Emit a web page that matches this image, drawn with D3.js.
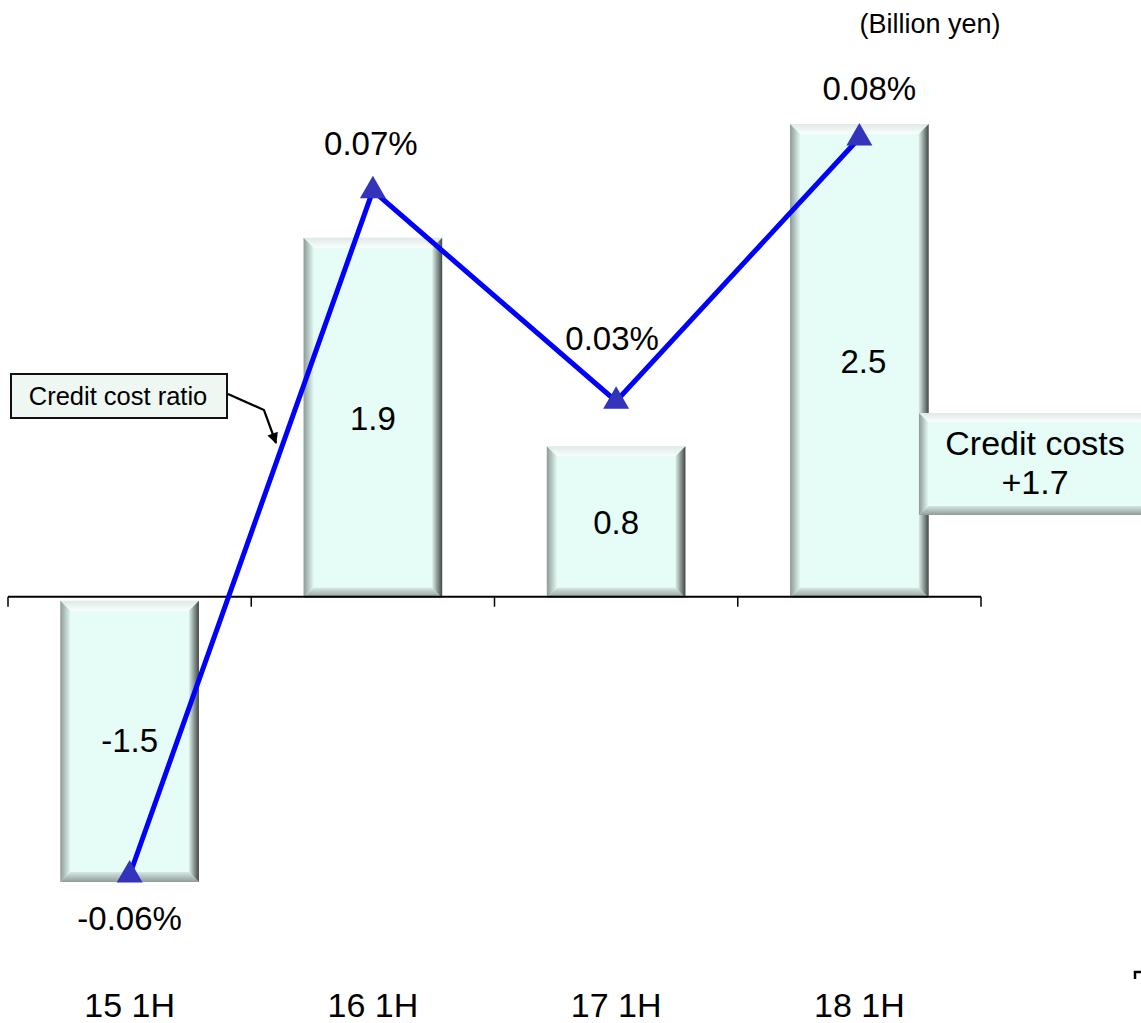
<!DOCTYPE html>
<html>
<head>
<meta charset="utf-8">
<script src="https://cdn.jsdelivr.net/npm/d3@7/dist/d3.min.js"></script>
<style>
  html, body { margin: 0; padding: 0; background: #ffffff; }
  svg { display: block; font-family: "Liberation Sans", Arial, sans-serif; }
</style>
</head>
<body>
<svg id="chart" width="1141" height="1023"></svg>
<script>
// ---- data ----
const categories = ["15 1H", "16 1H", "17 1H", "18 1H"];
const creditCosts = [-1.5, 1.9, 0.8, 2.5];            // billion yen (bars)
const creditCostRatio = [-0.06, 0.07, 0.03, 0.08];     // % (line)
const barLabels = ["-1.5", "1.9", "0.8", "2.5"];
const ratioLabels = ["-0.06%", "0.07%", "0.03%", "0.08%"];
const unitLabel = "(Billion yen)";
const legendLabel = "Credit cost ratio";
const calloutLines = ["Credit costs", "+1.7"];

// ---- layout / style ----
const ratioLabelOffsets = [[0, 55], [-2, -36], [-4, -51], [10, -38]];
const barLabelDx = [0, 0, 0, 4];
const svg = d3.select("#chart");
const defs = svg.append("defs");

const x = d3.scaleBand().domain(categories).range([8, 981])
  .paddingInner(0.43).paddingOuter(0.215);
const y = d3.scaleLinear().domain([-1.5, 2.5]).range([882, 124]);
const y2 = d3.scaleLinear().domain([-0.06, 0.08]).range([875, 138]);

// gradients for bevel
function grad(id, x1, y1, x2, y2_, c1, c2) {
  const g = defs.append("linearGradient").attr("id", id)
    .attr("x1", x1).attr("y1", y1).attr("x2", x2).attr("y2", y2_);
  g.append("stop").attr("offset", "0%").attr("stop-color", c1);
  g.append("stop").attr("offset", "100%").attr("stop-color", c2);
}
grad("gLeft", 0, 0, 1, 0, "#8c9a96", "#e2f7f1");
grad("gRight", 0, 0, 1, 0, "#dcefe9", "#3f4745");
grad("gTop", 0, 0, 0, 1, "#dfe9e6", "#f8fffd");
grad("gBottom", 0, 0, 0, 1, "#d6e8e3", "#8e9c98");

function bevelBox(g, x0, y0, w, h, b) {
  const x1 = x0 + w, y1 = y0 + h;
  g.append("rect").attr("x", x0).attr("y", y0).attr("width", w).attr("height", h)
    .attr("fill", "#e6fcf6");
  const poly = (pts, fill) => g.append("polygon")
    .attr("points", pts.map(p => p.join(",")).join(" ")).attr("fill", fill);
  poly([[x0, y0], [x1, y0], [x1 - b, y0 + b], [x0 + b, y0 + b]], "url(#gTop)");
  poly([[x0, y1], [x1, y1], [x1 - b, y1 - b], [x0 + b, y1 - b]], "url(#gBottom)");
  poly([[x0, y0], [x0 + b, y0 + b], [x0 + b, y1 - b], [x0, y1]], "url(#gLeft)");
  poly([[x1, y0], [x1, y1], [x1 - b, y1 - b], [x1 - b, y0 + b]], "url(#gRight)");
}

// ---- bars ----
const barsG = svg.append("g");
categories.forEach((c, i) => {
  const v = creditCosts[i];
  const top = v >= 0 ? y(v) : y(0) + 3;
  const bottom = v >= 0 ? y(0) : y(v);
  bevelBox(barsG, x(c), top, x.bandwidth(), bottom - top, 10);
});

// bar labels
svg.append("g").selectAll("text").data(categories).join("text")
  .attr("x", (c, i) => x(c) + x.bandwidth() / 2 + barLabelDx[i])
  .attr("y", (c, i) => (y(0) + y(creditCosts[i])) / 2)
  .attr("dy", "0.36em")
  .attr("text-anchor", "middle")
  .attr("font-size", 33)
  .text((c, i) => barLabels[i]);

// ---- axis line with ticks ----
const axisG = svg.append("g");
const y0 = y(0) - 1;
axisG.append("line").attr("x1", x.range()[0]).attr("x2", x.range()[1])
  .attr("y1", y0).attr("y2", y0).attr("stroke", "#000").attr("stroke-width", 2.2);
const tickXs = d3.range(categories.length + 1).map(i => x.range()[0] + i * x.step());
axisG.selectAll("line.tick").data(tickXs).join("line").attr("class", "tick")
  .attr("x1", d => d).attr("x2", d => d)
  .attr("y1", y0).attr("y2", y0 + 10)
  .attr("stroke", "#000").attr("stroke-width", 1.5);

// category labels
svg.append("g").selectAll("text").data(categories).join("text")
  .attr("x", c => x(c) + x.bandwidth() / 2)
  .attr("y", 1017)
  .attr("text-anchor", "middle")
  .attr("font-size", 34)
  .text(c => c);

// ---- ratio line ----
const pts = categories.map((c, i) => [x(c) + x.bandwidth() / 2, y2(creditCostRatio[i])]);
svg.append("path")
  .attr("d", d3.line()(pts))
  .attr("fill", "none").attr("stroke", "#0000ff").attr("stroke-width", 5)
  .attr("stroke-linejoin", "miter");
svg.append("g").selectAll("path").data(pts).join("path")
  .attr("transform", d => `translate(${d[0]},${d[1]})`)
  .attr("d", d3.symbol(d3.symbolTriangle, 292))
  .attr("fill", "#3333bb");

svg.append("g").selectAll("text").data(pts).join("text")
  .attr("x", (d, i) => d[0] + ratioLabelOffsets[i][0])
  .attr("y", (d, i) => d[1] + ratioLabelOffsets[i][1])
  .attr("text-anchor", "middle")
  .attr("font-size", 33)
  .text((d, i) => ratioLabels[i]);

// ---- unit label ----
svg.append("text").attr("x", 930).attr("y", 33).attr("text-anchor", "middle")
  .attr("font-size", 27).text(unitLabel);

// ---- legend box with leader arrow ----
defs.append("marker").attr("id", "arrow").attr("viewBox", "0 0 10 10")
  .attr("refX", 9).attr("refY", 5).attr("markerWidth", 5.5).attr("markerHeight", 5)
  .attr("orient", "auto").attr("markerUnits", "strokeWidth")
  .append("path").attr("d", "M0,0 L10,5 L0,10 z").attr("fill", "#000");
svg.append("rect").attr("x", 11).attr("y", 374).attr("width", 216).attr("height", 44)
  .attr("fill", "#eef7f2").attr("stroke", "#111").attr("stroke-width", 2);
svg.append("text").attr("x", 118).attr("y", 396).attr("dy", "0.36em")
  .attr("text-anchor", "middle").attr("font-size", 25.5).text(legendLabel);
svg.append("path").attr("d", "M228,394 L264,410 L276,443")
  .attr("fill", "none").attr("stroke", "#000").attr("stroke-width", 2.2)
  .attr("marker-end", "url(#arrow)");

// ---- callout box ----
const cg = svg.append("g");
bevelBox(cg, 919, 413, 240, 102, 9);
svg.append("text").attr("x", 1035).attr("y", 455).attr("text-anchor", "middle")
  .attr("font-size", 34).text(calloutLines[0]);
svg.append("text").attr("x", 1035).attr("y", 494).attr("text-anchor", "middle")
  .attr("font-size", 34).text(calloutLines[1]);

// ---- stray corner mark ----
svg.append("path").attr("d", "M1135,979 L1135,972 L1141,972")
  .attr("fill", "none").attr("stroke", "#000").attr("stroke-width", 2.5);
</script>
</body>
</html>
